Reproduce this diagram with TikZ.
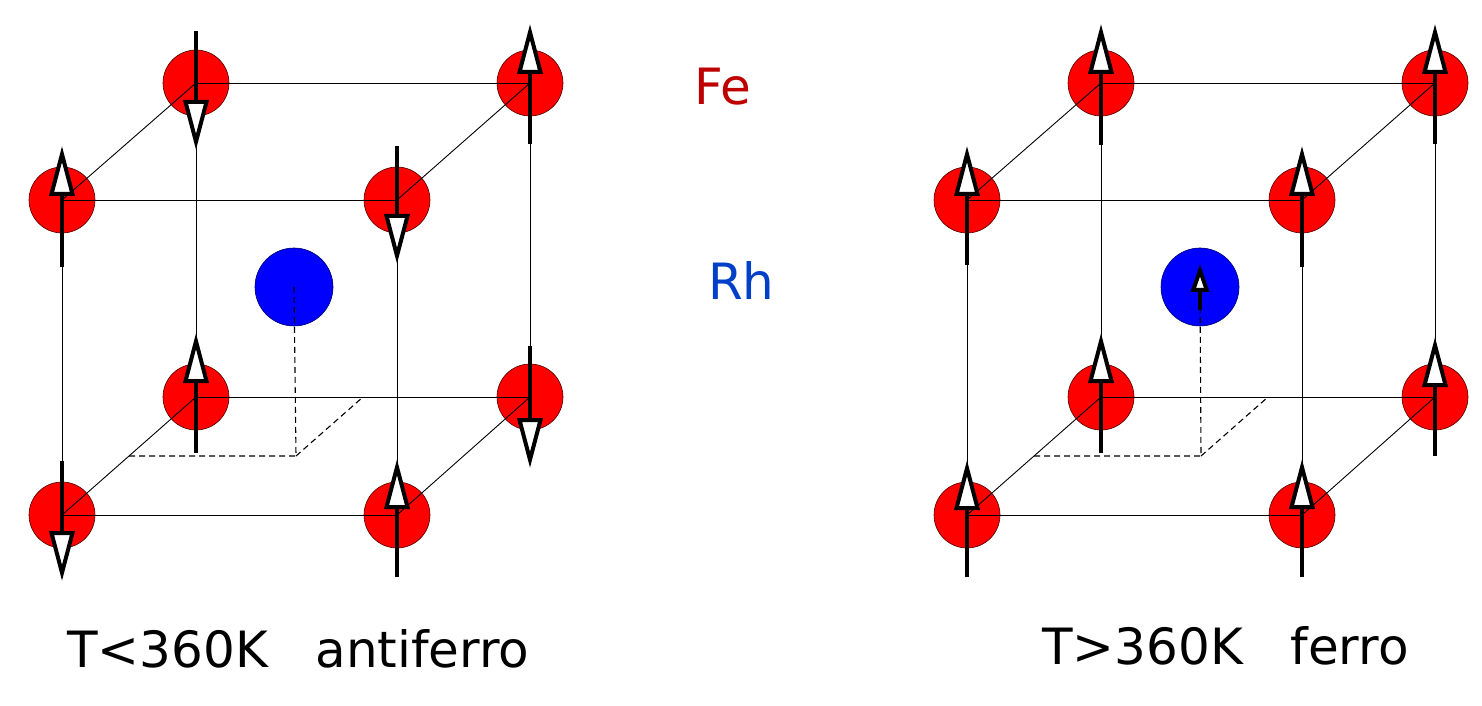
\documentclass[tikz,border=0pt]{standalone}
\usepackage{fontspec}
\setmainfont{DejaVu Sans}
\usetikzlibrary{arrows.meta}
\definecolor{fered}{RGB}{190,0,0}
\definecolor{rhblue}{RGB}{0,64,200}
\begin{document}
\begin{tikzpicture}[x=1pt,y=1pt,
        fe/.style={circle,minimum size=66pt,inner sep=0pt,fill=red,draw=black!70!red,line width=0.6pt},
        rh/.style={circle,minimum size=78pt,inner sep=0pt,fill=blue,draw=black!60!blue,line width=0.6pt},
        bond/.style={line width=0.9pt},
        hiddenline/.style={line width=1.1pt,dash pattern=on 6pt off 4pt},
        spin/.style={line width=4pt,-{Triangle[length=50pt,width=25pt,fill=white]}},
        rhspin/.style={line width=4pt,-{Triangle[length=28pt,width=18pt,fill=white]}},
        caption/.style={font=\fontsize{50}{60}\selectfont,inner sep=0pt,anchor=base west}]
        \useasboundingbox (0,0) rectangle (1482,705);

        % antiferro cube
        \node[fe] (Lbtl) at (196,622) {};
        \node[fe] (Lbtr) at (530,622) {};
        \node[fe] (Lbbl) at (196,308) {};
        \node[fe] (Lbbr) at (530,308) {};
        \node[rh] (Lrh) at (294,418) {};
        \node[fe] (Lftl) at (62,505) {};
        \node[fe] (Lftr) at (397,505) {};
        \node[fe] (Lfbl) at (62,190) {};
        \node[fe] (Lfbr) at (397,190) {};
        \coordinate (Lfoot) at (296,249);
        \coordinate (Lmidl) at (129,249);
        \coordinate (Lmidb) at (363,308);

        \draw[bond] (Lftl.center) -- (Lftr.center) -- (Lfbr.center) -- (Lfbl.center) -- cycle;
        \draw[bond] (Lbtl.center) -- (Lbtr.center) -- (Lbbr.center) -- (Lbbl.center) -- cycle;
        \draw[bond] (Lftl.center) -- (Lbtl.center);
        \draw[bond] (Lftr.center) -- (Lbtr.center);
        \draw[bond] (Lfbl.center) -- (Lbbl.center);
        \draw[bond] (Lfbr.center) -- (Lbbr.center);
        \draw[hiddenline] (Lrh.center) -- (Lfoot) -- (Lmidl);
        \draw[hiddenline] (Lfoot) -- (Lmidb);

        \draw[spin] ([yshift=-67pt]Lftl.center) -- ([yshift=54pt]Lftl.center);
        \draw[spin] ([yshift=54pt]Lftr.center) -- ([yshift=-64pt]Lftr.center);
        \draw[spin] ([yshift=54pt]Lfbl.center) -- ([yshift=-66pt]Lfbl.center);
        \draw[spin] ([yshift=-62pt]Lfbr.center) -- ([yshift=56pt]Lfbr.center);
        \draw[spin] ([yshift=52pt]Lbtl.center) -- ([yshift=-67pt]Lbtl.center);
        \draw[spin] ([yshift=-61pt]Lbtr.center) -- ([yshift=59pt]Lbtr.center);
        \draw[spin] ([yshift=-56pt]Lbbl.center) -- ([yshift=64pt]Lbbl.center);
        \draw[spin] ([yshift=51pt]Lbbr.center) -- ([yshift=-71pt]Lbbr.center);

        % ferro cube
        \node[fe] (Rbtl) at (1101,622) {};
        \node[fe] (Rbtr) at (1435,622) {};
        \node[fe] (Rbbl) at (1101,308) {};
        \node[fe] (Rbbr) at (1435,308) {};
        \node[rh] (Rrh) at (1200,418) {};
        \node[fe] (Rftl) at (967,505) {};
        \node[fe] (Rftr) at (1302,505) {};
        \node[fe] (Rfbl) at (967,190) {};
        \node[fe] (Rfbr) at (1302,190) {};
        \coordinate (Rfoot) at (1201,249);
        \coordinate (Rmidl) at (1034,249);
        \coordinate (Rmidb) at (1268,308);

        \draw[bond] (Rftl.center) -- (Rftr.center) -- (Rfbr.center) -- (Rfbl.center) -- cycle;
        \draw[bond] (Rbtl.center) -- (Rbtr.center) -- (Rbbr.center) -- (Rbbl.center) -- cycle;
        \draw[bond] (Rftl.center) -- (Rbtl.center);
        \draw[bond] (Rftr.center) -- (Rbtr.center);
        \draw[bond] (Rfbl.center) -- (Rbbl.center);
        \draw[bond] (Rfbr.center) -- (Rbbr.center);
        \draw[hiddenline] (Rrh.center) -- (Rfoot) -- (Rmidl);
        \draw[hiddenline] (Rfoot) -- (Rmidb);

        \draw[spin] ([yshift=-65pt]Rftl.center) -- ([yshift=54pt]Rftl.center);
        \draw[spin] ([yshift=-67pt]Rftr.center) -- ([yshift=54pt]Rftr.center);
        \draw[spin] ([yshift=-62pt]Rfbl.center) -- ([yshift=55pt]Rfbl.center);
        \draw[spin] ([yshift=-62pt]Rfbr.center) -- ([yshift=56pt]Rfbr.center);
        \draw[spin] ([yshift=-62pt]Rbtl.center) -- ([yshift=59pt]Rbtl.center);
        \draw[spin] ([yshift=-61pt]Rbtr.center) -- ([yshift=59pt]Rbtr.center);
        \draw[spin] ([yshift=-56pt]Rbbl.center) -- ([yshift=64pt]Rbbl.center);
        \draw[spin] ([yshift=-59pt]Rbbr.center) -- ([yshift=60pt]Rbbr.center);
        \draw[rhspin] ([yshift=-23pt]Rrh.center) -- ([yshift=23pt]Rrh.center);

        % labels
        \node[caption,text=fered] (fe) at (694,600) {Fe};
        \node[caption,text=rhblue] (rh) at (708,405) {Rh};
        \node[caption] (low) at (67,38) {T<360K\ \ \ antiferro};
        \node[caption] (high) at (1042,41) {T>360K\ \ \ ferro};
      \end{tikzpicture}
\end{document}
